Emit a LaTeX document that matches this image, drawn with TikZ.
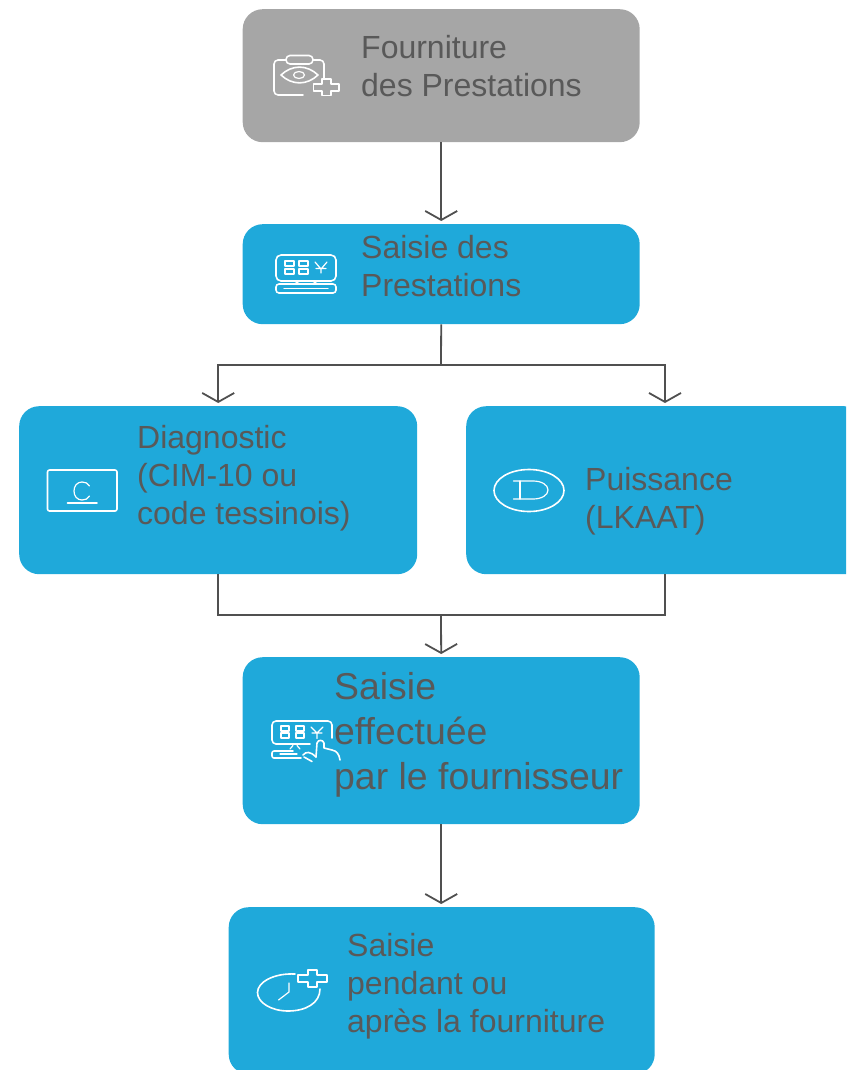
\documentclass[tikz,border=0pt]{standalone}
\usepackage{fontspec}
\setmainfont{Liberation Sans}
\usetikzlibrary{arrows.meta}
\definecolor{blu}{HTML}{1FA9DA}
\definecolor{gry}{HTML}{A6A6A6}
\definecolor{txt}{HTML}{595959}
\definecolor{lin}{HTML}{505050}
\tikzset{
 x=1pt,y=-1pt,
 flow/.style={rounded corners=20pt,inner sep=0,anchor=north west},
 conn/.style={draw=lin,line width=1.8pt},
 arr/.style={conn,-{Straight Barb[length=9pt,width=32pt,line width=1.8pt]},shorten >=3pt},
 lab/.style={text=txt,align=left,anchor=west,inner sep=0,font=\fontsize{32}{38}\selectfont},
 labb/.style={lab,font=\fontsize{37.4}{45}\selectfont},
 ico/.style={draw=white,line width=1.6pt,fill=none,line cap=round,line join=round},
 icot/.style={ico,line width=1.2pt},
}
\begin{document}
\begin{tikzpicture}
\useasboundingbox (0,0) rectangle (846,1070);
\clip (0,0) rectangle (846,1070);
\node[flow,fill=gry,minimum width=397pt,minimum height=133pt] (b1) at (242.5,9) {};
\node[flow,fill=blu,minimum width=397pt,minimum height=100pt] (b2) at (242.5,224) {};
\node[flow,fill=blu,minimum width=398pt,minimum height=168pt] (b3) at (19,406) {};
\node[flow,fill=blu,minimum width=398pt,minimum height=168pt] (b4) at (466,406) {};
\node[flow,fill=blu,minimum width=397pt,minimum height=167pt] (b5) at (242.5,657) {};
\node[flow,fill=blu,minimum width=426pt,minimum height=167pt] (b6) at (228.5,907) {};

\coordinate (j1) at (441,365);
\coordinate (j2) at (441,615);
\coordinate (t4) at (665,406);
\coordinate (s4) at (665,574);
\draw[arr] (b1.south) -- (b2.north);
\draw[conn] (b2.south) -- (j1);
\draw[arr] (j1) -| (b3.north);
\draw[arr] (j1) -| (t4);
\draw[conn] (b3.south) |- (j2);
\draw[conn] (s4) |- (j2);
\draw[arr] (j2) -- (b5.north);
\draw[arr] (b5.south) -- (b5.south |- b6.north);

\node[lab] (t1) at (361,66) {Fourniture\\des Prestations};
\node[lab] (t2) at (361,266) {Saisie des\\Prestations};
\node[lab] (t3) at (137,478) {Diagnostic\\(CIM-10 ou\\code tessinois)};
\node[lab] (t4b) at (585,501) {Puissance\\(LKAAT)};
\node[labb] (t5) at (334,735) {Saisie\\effectuée\\par le fournisseur};
\node[lab] (t6) at (347,986) {Saisie\\pendant ou\\après la fourniture};

% icon 1: clipboard, eye, cross
\draw[ico,rounded corners=4pt] (303,95) -- (274,95) -- (274,60) -- (324,60) -- (324,78);
\draw[ico,fill=gry,rounded corners=4pt] (286,55.5) rectangle (313,64);
\draw[ico] (281,75) .. controls (292,64.5) and (307,64.5) .. (318,75) .. controls (307,85.5) and (292,85.5) .. (281,75) -- cycle;
\draw[icot] (299,75) ellipse (5.5 and 3.5);
\draw[ico] (322,79) -- (331,79) -- (331,84) -- (339,84) -- (339,91) -- (331,91) -- (331,95.5) -- (322,95.5) -- (322,91) -- (313.5,91) -- (313.5,84) -- (322,84) -- cycle;

% icon 2: keyboard/monitor
\draw[ico,rounded corners=5pt] (276,255) rectangle (336,281);
\draw[icot] (285,261) rectangle (294,266);
\draw[icot] (285,269) rectangle (294,274);
\draw[icot] (299,261) rectangle (308,266);
\draw[icot] (299,269) rectangle (308,274);
\draw[icot] (315,262) -- (321,269) -- (327,262) (321,269) -- (321,273) (316,268.5) -- (326,268.5);
\draw[icot] (295,283.5) -- (300,281) (317,283.5) -- (312,281);
\draw[ico,rounded corners=3pt] (276,284) rectangle (336,293);
\draw[icot] (284,288.5) -- (328,288.5);

% icon 3: C
\draw[ico,rounded corners=2pt] (47.5,470) rectangle (117,511);
\draw[icot] (89.5,486) .. controls (88,483) and (85,482) .. (82,482) .. controls (77,482) and (74,486) .. (74,491) .. controls (74,496) and (77,500) .. (82,500) .. controls (85,500) and (88,499) .. (89.5,496);
\draw[ico] (67.5,503) -- (97,503);

% icon 4: D in ellipse
\draw[ico] (529,490.5) ellipse (35 and 21);
\draw[icot] (513.5,481) -- (533,481) .. controls (542,481) and (548,485) .. (548,490) .. controls (548,495) and (542,499) .. (533,499) -- (513.5,499);
\draw[icot] (520,481) -- (520,499);

% icon 5: keyboard with hand
\draw[ico,rounded corners=4pt] (310,744) -- (272,744) -- (272,721) -- (332,721) -- (332,738);
\draw[icot] (281,726) rectangle (289,731);
\draw[icot] (281,733) rectangle (289,738);
\draw[icot] (296,726) rectangle (304,731);
\draw[icot] (296,733) rectangle (304,738);
\draw[icot] (311,727) -- (317,733) -- (323,727) (317,733) -- (317,738.5) (312,733) -- (322,733);
\draw[icot] (290,749) -- (293,745.5) (300,749) -- (297,745.5);
\draw[ico,rounded corners=2pt] (293,751) -- (272,751) -- (272,758) -- (301,758);
\draw[icot] (280,754) -- (297,754);
\draw[ico] (303,755) .. controls (306,751.5) and (310,751) .. (316,757);
\draw[ico] (304,757) -- (312,761.5);
\draw[ico] (316,757) -- (317,743) .. controls (318,739.5) and (323,739.5) .. (324,743) -- (324,748) -- (332,750) .. controls (337,751) and (339,754) .. (340,760);

% icon 6: clock cross
\draw[ico] (295,974) .. controls (274,973) and (257.5,982) .. (257.5,992.5) .. controls (257.5,1003) and (272,1011) .. (288,1011) .. controls (306,1011) and (320,1003) .. (320,989);
\draw[icot] (289,983) -- (289,992) -- (278.5,1000);
\draw[ico] (308,970) -- (317,970) -- (317,975) -- (327,975) -- (327,982) -- (317,982) -- (317,987) -- (308,987) -- (308,982) -- (298,982) -- (298,975) -- (308,975) -- cycle;
\end{tikzpicture}
\end{document}
